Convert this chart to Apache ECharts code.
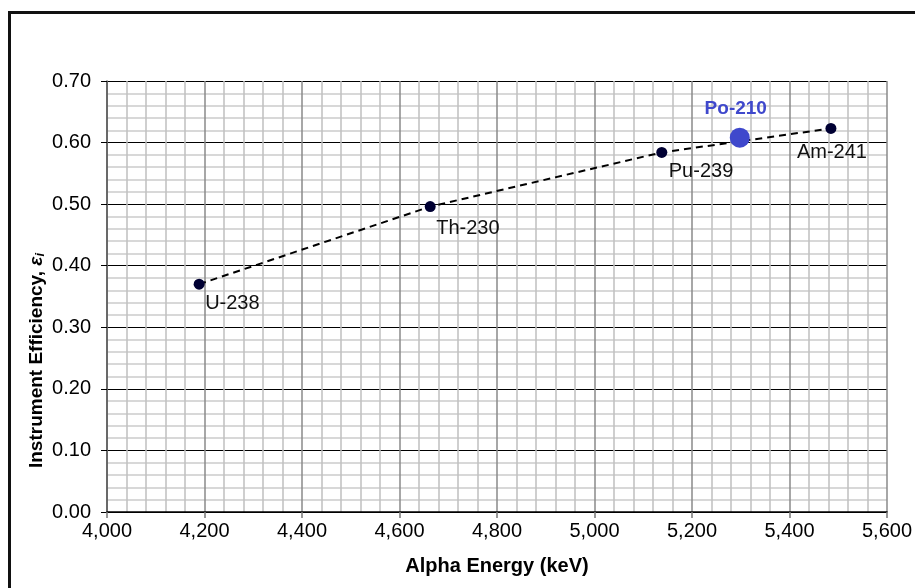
<!DOCTYPE html>
<html>
<head>
<meta charset="utf-8">
<script src="https://cdn.jsdelivr.net/npm/echarts@6/dist/echarts.min.js"></script>
<style>
  html, body { margin: 0; padding: 0; background: #fff; overflow: hidden; }
  #frame {
    position: absolute; left: 8px; top: 11px;
    width: 1000px; height: 1000px;
    border: 3px solid #111; box-sizing: border-box;
  }
  #chart { position: absolute; left: 0; top: 0; width: 915px; height: 588px; }
</style>
</head>
<body>
<div id="frame"></div>
<div id="chart"></div>
<script>
// nuclides on the calibration curve
const nuclides = ["U-238", "Th-230", "Pu-239", "Am-241"];
const energies = [4189, 4663, 5138, 5485];
const efficiencies = [0.370, 0.496, 0.584, 0.623];

// interpolated nuclide
const poName = "Po-210";
const poEnergy = 5298;
const poEfficiency = 0.608;

// label placement for each nuclide (offset from the point)
const labelOffsets = {
  "U-238": [6, 19],
  "Th-230": [6, 22],
  "Pu-239": [7, 19],
  "Am-241": [-34, 24]
};

var chart = echarts.init(document.getElementById("chart"));

var fontFamily = "Arial, 'Liberation Sans', sans-serif";

var calData = nuclides.map(function (n, i) {
  return {
    name: n,
    value: [energies[i], efficiencies[i]],
    label: { offset: labelOffsets[n] }
  };
});

var option = {
  animation: false,
  backgroundColor: "transparent",
  grid: { left: 107, right: 28, top: 81, bottom: 76 },
  xAxis: {
    type: "value",
    min: 4000,
    max: 5600,
    interval: 200,
    name: "Alpha Energy (keV)",
    nameLocation: "middle",
    nameGap: 44,
    nameTextStyle: { fontFamily: fontFamily, fontSize: 20, fontWeight: "bold", color: "#000" },
    axisLine: { onZero: false, lineStyle: { color: "#000", width: 1.5 } },
    axisTick: { show: true, length: 6, lineStyle: { color: "#777", width: 1.5 } },
    axisLabel: {
      fontFamily: fontFamily, fontSize: 20, color: "#000", margin: 9,
      formatter: function (v) { return v.toLocaleString("en-US"); }
    },
    splitLine: { show: true, lineStyle: { color: "#8a8a8a", width: 1.5 } },
    minorTick: { show: false, splitNumber: 5 },
    minorSplitLine: { show: true, lineStyle: { color: "#c0c0c0", width: 1.5 } }
  },
  yAxis: {
    type: "value",
    min: 0,
    max: 0.7,
    interval: 0.1,
    name: "Instrument Efficiency, {g|ε}{s|i}",
    nameLocation: "middle",
    nameGap: 60,
    nameMoveOverlap: false,
    nameTextStyle: {
      fontFamily: fontFamily, fontSize: 19, fontWeight: "bold", color: "#000",
      padding: [0, 128, 0, 0],
      rich: {
        g: { fontFamily: fontFamily, fontSize: 19, fontWeight: "bold", fontStyle: "italic", color: "#000" },
        s: { fontFamily: fontFamily, fontSize: 13, fontWeight: "bold", fontStyle: "italic", color: "#000", padding: [8, 0, 0, 0] }
      }
    },
    axisLine: { show: true, lineStyle: { color: "#555", width: 1.5 } },
    axisTick: { show: true, length: 6, lineStyle: { color: "#000", width: 1 } },
    axisLabel: {
      fontFamily: fontFamily, fontSize: 20, color: "#000", margin: 16,
      formatter: function (v) { return v.toFixed(2); }
    },
    splitLine: { show: true, lineStyle: { color: "#000", width: 1 } },
    minorTick: { show: false, splitNumber: 5 },
    minorSplitLine: { show: true, lineStyle: { color: "#d8d8d8", width: 2 } }
  },
  series: [
    {
      type: "line",
      data: calData,
      symbol: "circle",
      symbolSize: 11,
      z: 5,
      itemStyle: { color: "#000033", opacity: 1 },
      lineStyle: { color: "#000", width: 2, type: [7, 5] },
      label: {
        show: true,
        position: "inside",
        align: "left",
        verticalAlign: "middle",
        formatter: "{b}",
        fontFamily: fontFamily,
        fontSize: 20,
        color: "#111"
      }
    },
    {
      type: "scatter",
      data: [{ name: poName, value: [poEnergy, poEfficiency] }],
      symbol: "circle",
      symbolSize: 20,
      z: 6,
      itemStyle: { color: "#3f48cc", opacity: 1 },
      label: {
        show: true,
        position: "inside",
        align: "center",
        verticalAlign: "middle",
        offset: [-4, -29],
        formatter: "{b}",
        fontFamily: fontFamily,
        fontSize: 19,
        fontWeight: "bold",
        color: "#3f48cc"
      }
    }
  ]
};

chart.setOption(option);
</script>
</body>
</html>
